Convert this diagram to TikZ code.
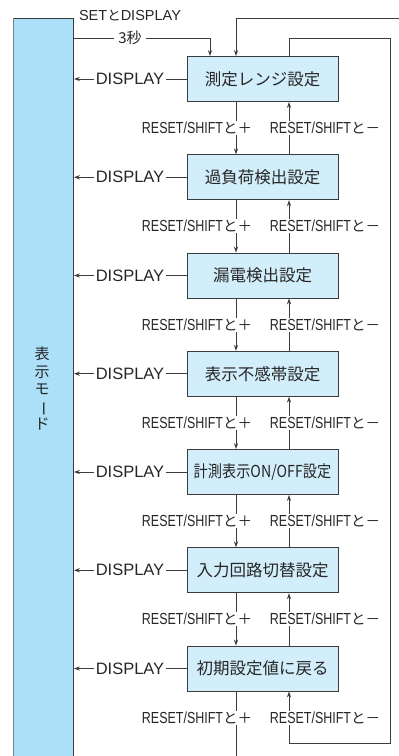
\documentclass[tikz,border=0pt]{standalone}
\usepackage{fontspec}
\setmainfont{Liberation Sans}
\newfontfamily\jp{Noto Sans CJK JP}
\newfontfamily\cond[FakeStretch=0.78]{Liberation Sans}
\usetikzlibrary{arrows.meta,calc}
\definecolor{barc}{HTML}{ACDFF8}
\definecolor{boxc}{HTML}{D3EEFB}
\definecolor{linec}{HTML}{3C3C3C}
\definecolor{txt}{HTML}{262626}
\tikzset{
  box/.style={draw=linec, line width=0.9pt, fill=boxc, minimum width=151pt, minimum height=45pt, inner sep=0pt, text=txt, font=\jp\fontsize{16.5}{18}\selectfont},
  ln/.style={draw=linec, line width=0.9pt},
  arr/.style={ln, -{Stealth[length=6pt,width=4.2pt]}},
  lab/.style={fill=white, inner xsep=1.5pt, inner ysep=1pt, text=txt},
  rlab/.style={lab, font=\fontsize{16.5}{18}\selectfont},
}
\newcommand{\plusl}{{\cond\fontsize{16}{18}\selectfont RESET/SHIFT}{\jp\fontsize{14.5}{18}\selectfont と＋}}
\newcommand{\minusl}{{\cond\fontsize{16}{18}\selectfont RESET/SHIFT}{\jp\fontsize{14.5}{18}\selectfont と－}}
\begin{document}
\begin{tikzpicture}[x=1pt,y=-1pt]
\useasboundingbox (0,0) rectangle (399,756);
% left bar
\node[fill=barc, draw=linec, line width=0.9pt, minimum width=60pt, minimum height=752pt, inner sep=0pt, anchor=north west] (bar) at (13,18) {};
\draw[draw=gray, line width=1pt] (bar.north west) -- (bar.south west);
\node[text=txt, align=center, font=\jp\fontsize{15}{17.5}\selectfont] (mode) at (42,389) {表\\示\\モ\\\rotatebox[origin=c]{-90}{ー}\\ド};
% helper coordinates
\coordinate (dx) at (236,0);
\coordinate (ux) at (289,0);
\coordinate (sx) at (210,0);
\coordinate (sety) at (0,38);
% boxes
\foreach \i/\t in {1/測定レンジ設定, 2/過負荷検出設定, 3/漏電検出設定, 4/表示不感帯設定, 5/{\scalebox{0.86}[1]{計測表示ON/OFF設定}}, 6/入力回路切替設定, 7/初期設定値に戻る}{
  \pgfmathsetmacro\yy{79+98.25*(\i-1)}
  \node[box] (b\i) at (262.5,\yy) {\t};
  \draw[arr] (b\i.west) -- (b\i.west -| bar.east);
  \node[rlab] (d\i) at (130,\yy) {DISPLAY};
}
% vertical connectors between boxes
\foreach \i [evaluate=\i as \j using int(\i+1)] in {1,...,6}{
  \draw[arr] (b\i.south -| dx) -- (b\j.north -| dx);
  \draw[arr] (b\j.north -| ux) -- (b\i.south -| ux);
  \pgfmathsetmacro\ly{79+98.25*(\i-1)+49.1}
  \node[lab] (p\i) at (197,\ly) {\plusl};
  \node[lab] (m\i) at (325,\ly) {\minusl};
}
% SET and DISPLAY entry
\draw[arr] (sety -| bar.east) -| (b1.north -| sx);
\node[lab, font=\jp\fontsize{15}{17}\selectfont, inner xsep=4pt] (sec) at (130,38) {3秒};
\node[text=txt, inner sep=0pt] (setd) at (130,15.5) {{\fontsize{14.5}{16}\selectfont SET}{\jp\fontsize{13.5}{16}\selectfont と}{\fontsize{14.5}{16}\selectfont DISPLAY}};
% outer loop (+)
\coordinate (topR) at (402,18);
\coordinate (botD) at (236,760);
\draw[arr] (topR) -| (b1.north -| dx);
\draw[ln] (b7.south -| dx) -- (botD);
% inner loop (-)
\coordinate (r1) at (390.5,38);
\coordinate (r2) at (390.5,743);
\draw[arr] (b1.north -| ux) |- (r1) -- (r2) -| (b7.south -| ux);
\node[lab] (p7) at (197,717.5) {\plusl};
\node[lab] (m7) at (325,717.5) {\minusl};
\end{tikzpicture}
\end{document}
